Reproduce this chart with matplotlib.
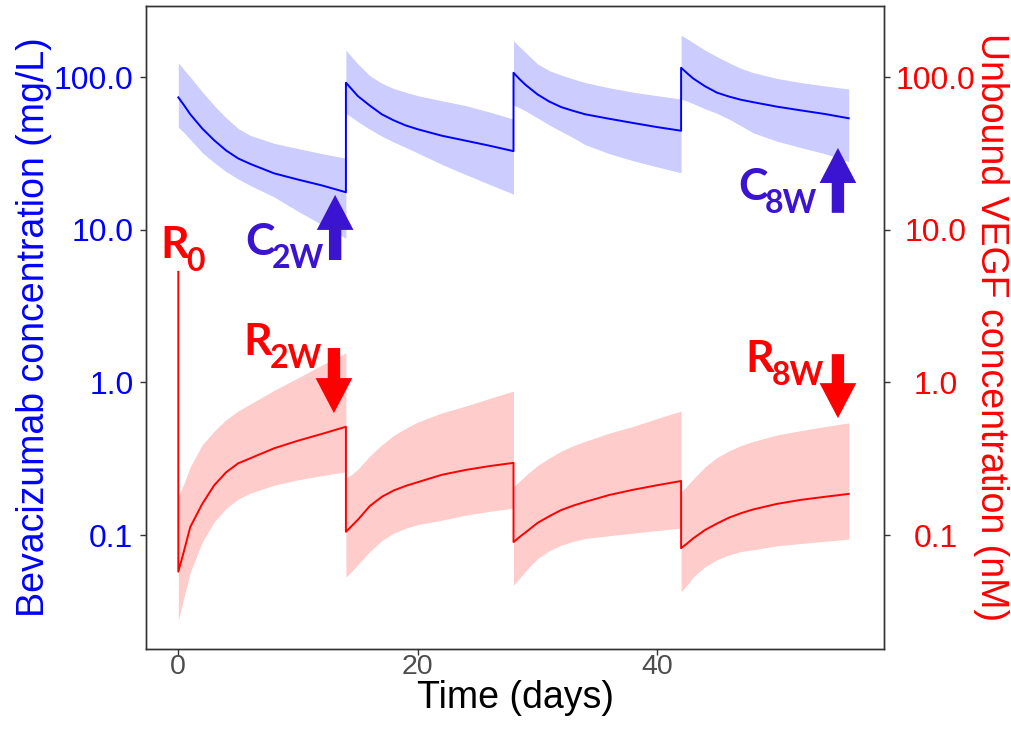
import numpy as np
import matplotlib
matplotlib.use("Agg")
import matplotlib.pyplot as plt
from matplotlib.ticker import FixedLocator, NullLocator

# ---- data -----------------------------------------------------------------
dose_days = [0, 14, 28, 42]                      # dosing times (days)
tau = [0, 0.5, 1, 2, 3, 4, 5, 6, 8, 10, 12, 14]  # time after each dose (days)

# Bevacizumab concentration (mg/L): median and 90% interval, one list per dosing interval
bev_median = [
    [73.6, 65, 57, 46, 38.5, 33, 29.3, 27, 23.4, 21.3, 19.5, 17.6],
    [91.8, 83, 75, 65, 57, 52, 48.2, 45.5, 41.3, 38.3, 35.5, 32.7],
    [106.7, 97, 89, 77, 69, 63.5, 60, 57, 53.3, 50, 47, 44.5],
    [115, 106, 98, 87, 79, 74.5, 71, 68.5, 64, 60.5, 57.3, 53.7],
]
bev_upper = [
    [124, 111, 100, 80, 65, 54, 46, 41.5, 36.8, 34, 31.5, 29.4],
    [150, 135, 122, 102, 91, 84, 79.5, 75.5, 70, 65, 59, 53],
    [173, 158, 145, 122, 110, 103, 97, 92, 85, 79.5, 75.5, 71.8],
    [188, 178, 168, 150, 136, 124, 114, 107, 98, 92, 87.5, 83.5],
]
bev_lower = [
    [46.9, 43, 39, 32, 27.5, 24, 21.5, 19.5, 16.4, 13.2, 10.8, 8.8],
    [57.8, 54.5, 51, 45.5, 41, 37.5, 34.6, 31.8, 26.8, 23, 19.8, 17.1],
    [65.6, 63, 60, 54, 48.5, 44, 40, 36, 31.5, 28.3, 25.8, 23.6],
    [71.8, 69.5, 67, 62, 57.8, 53, 48, 43.2, 38, 34.5, 31.5, 27.9],
]

# Unbound VEGF concentration (nM)
vegf_baseline = 5.3
vegf_median = [
    [0.0575, 0.08, 0.113, 0.160, 0.212, 0.258, 0.295, 0.318, 0.370, 0.415, 0.46, 0.512],
    [0.105, 0.115, 0.126, 0.155, 0.178, 0.196, 0.210, 0.222, 0.248, 0.267, 0.283, 0.297],
    [0.090, 0.097, 0.104, 0.120, 0.133, 0.146, 0.156, 0.165, 0.183, 0.198, 0.212, 0.226],
    [0.082, 0.088, 0.095, 0.108, 0.119, 0.130, 0.139, 0.147, 0.160, 0.170, 0.178, 0.186],
]
vegf_upper = [
    [0.18, 0.22, 0.28, 0.39, 0.48, 0.57, 0.65, 0.72, 0.887, 1.07, 1.30, 1.56],
    [0.235, 0.25, 0.27, 0.33, 0.39, 0.45, 0.50, 0.55, 0.63, 0.70, 0.785, 0.877],
    [0.207, 0.225, 0.245, 0.285, 0.32, 0.355, 0.385, 0.412, 0.465, 0.515, 0.58, 0.649],
    [0.192, 0.21, 0.232, 0.28, 0.322, 0.356, 0.386, 0.41, 0.452, 0.483, 0.513, 0.543],
]
vegf_lower = [
    [0.0277, 0.04, 0.057, 0.09, 0.122, 0.150, 0.172, 0.188, 0.212, 0.23, 0.245, 0.26],
    [0.053, 0.058, 0.064, 0.078, 0.092, 0.103, 0.111, 0.117, 0.125, 0.135, 0.143, 0.150],
    [0.047, 0.052, 0.058, 0.070, 0.079, 0.086, 0.091, 0.095, 0.099, 0.103, 0.107, 0.111],
    [0.0426, 0.047, 0.053, 0.062, 0.069, 0.074, 0.078, 0.080, 0.085, 0.088, 0.091, 0.094],
]

y_ticks = [0.1, 1, 10, 100]
y_tick_labels = ["0.1", "1.0", "10.0", "100.0"]
x_ticks = [0, 20, 40]

# ---- styling --------------------------------------------------------------
plt.rcParams["font.family"] = ["Liberation Sans", "DejaVu Sans"]

BLUE = "#0000FF"
RED = "#FF0000"
BLUE_FILL = "#CCCCFF"
RED_FILL = "#FFCCCC"
PURPLE = "#3A14D0"
FRAME = "#333333"
GREY_TXT = "#4D4D4D"
LABEL_FONT = "Lato"


def flat(segments):
    return np.concatenate([np.asarray(s, dtype=float) for s in segments])


t = np.concatenate([d + np.asarray(tau, dtype=float) for d in dose_days])

fig = plt.figure(figsize=(10.11, 7.32), dpi=100)
ax = fig.add_axes([0.1444, 0.1139, 0.730, 0.8784])
ax2 = ax.twinx()

for a in (ax, ax2):
    a.set_yscale("log")
    a.set_ylim(0.01803, 293.6)
    a.set_xlim(-2.7, 58.95)
    a.yaxis.set_major_locator(FixedLocator(y_ticks))
    a.yaxis.set_minor_locator(NullLocator())
    a.set_yticklabels(y_tick_labels)
    for s in a.spines.values():
        s.set_color(FRAME)
        s.set_linewidth(1.0)

# bevacizumab (left axis)
ax.fill_between(t, flat(bev_lower), flat(bev_upper), color=BLUE_FILL, lw=0, zorder=1)
ax.plot(t, flat(bev_median), color=BLUE, lw=1.4, zorder=2)

# unbound VEGF (right axis), starting from baseline at t = 0
ax2.fill_between(t, flat(vegf_lower), flat(vegf_upper), color=RED_FILL, lw=0, zorder=1)
ax2.plot(np.r_[0.0, t], np.r_[vegf_baseline, flat(vegf_median)], color=RED, lw=1.4, zorder=2)

# ticks and labels
ax.xaxis.set_major_locator(FixedLocator(x_ticks))
ax.tick_params(axis="x", colors=FRAME, labelcolor=GREY_TXT, labelsize=20.5,
               length=4, width=1, pad=0)
ax.tick_params(axis="y", colors=FRAME, labelcolor=BLUE, labelsize=23,
               length=4, width=1, pad=5)
ax2.tick_params(axis="y", colors=FRAME, labelcolor=RED, labelsize=23,
                length=4, width=1, pad=33)
for lbl in ax2.get_yticklabels():
    lbl.set_horizontalalignment("center")

ax.set_xlabel("Time (days)", fontsize=27, color="black", va="baseline")
ax.set_ylabel("Bevacizumab concentration (mg/L)", fontsize=27, color=BLUE)
ax2.set_ylabel("Unbound VEGF concentration (nM)", fontsize=27, color=RED,
               rotation=270, va="bottom")
ax.yaxis.set_label_coords(-0.127, 0.5)
ax2.yaxis.set_label_coords(1.121, 0.5)
ax.xaxis.set_label_coords(0.5, -0.093)


# annotations: a large letter with a subscript set to its lower right
def label(x, y, main, sub, color):
    ax2.text(x, y, main, color=color, fontsize=32, fontfamily=LABEL_FONT,
             fontweight="bold", ha="left", va="baseline", zorder=5)
    ax2.annotate(sub, xy=(x, y), xytext=(18.7, -9.4), textcoords="offset points",
                 color=color, fontsize=23, fontfamily=LABEL_FONT, fontweight="bold",
                 ha="left", va="baseline", zorder=5)


label(-1.5, 6.5, "R", "0", RED)
label(5.6, 6.83, "C", "2W", PURPLE)
label(46.8, 15.6, "C", "8W", PURPLE)
label(5.46, 1.51, "R", "2W", RED)
label(47.4, 1.17, "R", "8W", RED)

arrow_style = "simple,head_length=25.2,head_width=26.4,tail_width=8.9"


def arrow(x, y_tip, y_tail, color):
    ax2.annotate("", xy=(x, y_tip), xytext=(x, y_tail),
                 arrowprops=dict(arrowstyle=arrow_style, color=color, lw=0,
                                 shrinkA=0, shrinkB=0, mutation_scale=1),
                 zorder=5)


arrow(13.1, 16.9, 6.33, PURPLE)
arrow(55.1, 34.3, 12.9, PURPLE)
arrow(13.0, 0.629, 1.68, RED)
arrow(55.1, 0.583, 1.53, RED)

fig.savefig("out.png", dpi=100)
